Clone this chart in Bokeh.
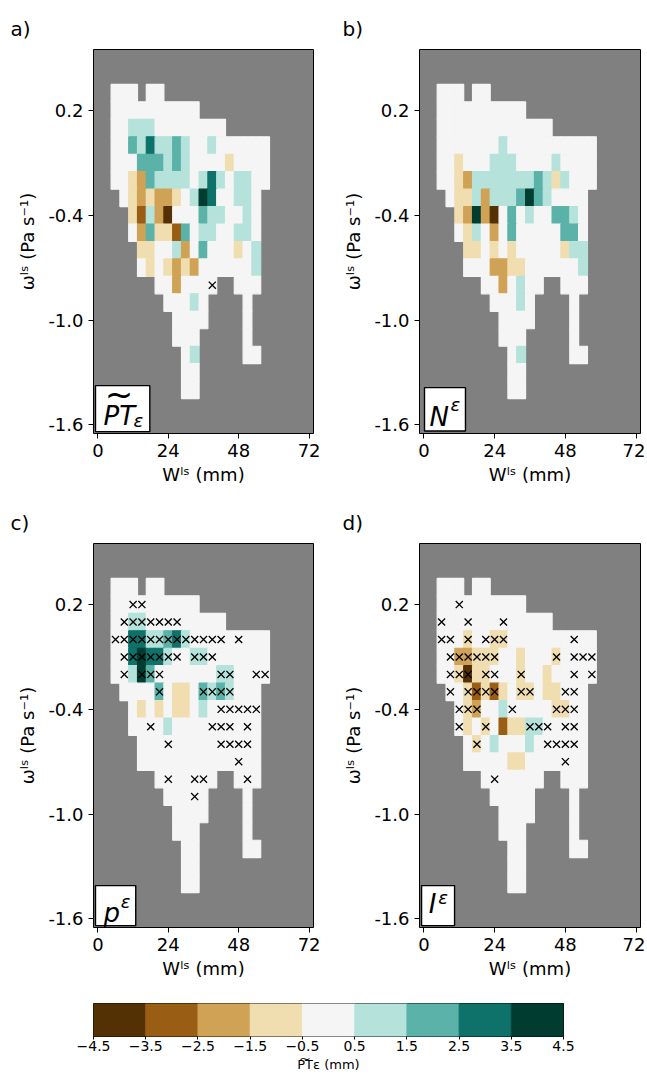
from bokeh.plotting import figure
from bokeh.models import ColumnDataSource, LinearColorMapper, FixedTicker, Range1d
from bokeh.layouts import column, row
from bokeh.embed import file_html
from bokeh.resources import INLINE
from bokeh.core.properties import value
from bokeh.transform import transform

# ---------------- data ----------------
W_BINS = [0, 3, 6, 9, 12, 15, 18, 21, 24, 27, 30, 33, 36, 39, 42, 45, 48,
          51, 54, 57, 60, 63, 66, 69, 72]
OMEGA_ROWS = [0.3, 0.2, 0.1, 0.0, -0.1, -0.2, -0.3, -0.4, -0.5, -0.6, -0.7,
              -0.8, -0.9, -1.0, -1.1, -1.2, -1.3, -1.4]
# '.' = no data ; a..d = -1..-4 ; 0..4 = 0..4 (mm)
LEVELS = {"d": -4, "c": -3, "b": -2, "a": -1,
          "0": 0, "1": 1, "2": 2, "3": 3, "4": 4}

PT_EPS = [
    "..000.00.................",
    "..0000000000.............",
    "..0011100000000..........",
    "..002131121001000000.....",
    "..0002221210000a0000.....",
    "..00ab21111013101100.....",
    "...0ababba014300110......",
    "....ac1bd0002110010......",
    "....0b2aac201100110......",
    ".....aa001b02000a01......",
    ".....0a0abab0000001......",
    ".......00b0000..000......",
    "........00010....0.......",
    ".........0000....0.......",
    ".........000.....0.......",
    "..........01.....00......",
    "..........00.............",
    "..........00.............",
]
N_EPS = [
    "..000.00.................",
    "..0000000000.............",
    "..0000000000000..........",
    "..000000010000000000.....",
    "..00a000111000010000.....",
    "..00ab111111121a1000.....",
    "...0aa1b11124210000......",
    "....ab4bd0201002210......",
    "....0a10b0200000220......",
    ".....aa0a0a00000a11......",
    ".....000bbaa0000001......",
    ".......00b0100..000......",
    "........00010....0.......",
    ".........0000....0.......",
    ".........000.....0.......",
    "..........01.....00......",
    "..........00.............",
    "..........00.............",
]
P_EPS = [
    "..000.00.................",
    "..0000000000.............",
    "..0011000000000..........",
    "..003311231000000000.....",
    "..003433100110000000.....",
    "..001420000000110000.....",
    "...000020aa02121000......",
    "....0a0a0aa01000000......",
    "....000010000000000......",
    ".....00000000000000......",
    ".....00000000000000......",
    ".......0000000..000......",
    "........00000....0.......",
    ".........0000....0.......",
    ".........000.....0.......",
    "..........00.....00......",
    "..........00.............",
    "..........00.............",
]
I_EPS = [
    "..000.00.................",
    "..0000000000.............",
    "..0000000000000..........",
    "..000a00aa0000000000.....",
    "..00bbaaa00a000a0000.....",
    "..00adaa000a00a00000.....",
    "...00acaca0aa0aa000......",
    "....0ab00100000aa00......",
    "....0a0a0caa1100000......",
    ".....0a010001000000......",
    ".....00000aa0000000......",
    ".......0000000..000......",
    "........00000....0.......",
    ".........0000....0.......",
    ".........000.....0.......",
    "..........00.....00......",
    "..........00.............",
    "..........00.............",
]

# cells marked with a cross: (omega, [W values])
CROSS_A = [(-0.8, [39])]
CROSS_B = []
CROSS_C = [
    (0.2, [12, 15]),
    (0.1, [9, 12, 15, 18, 21, 24, 27]),
    (0.0, [6, 9, 12, 15, 18, 21, 24, 27, 30, 33, 36, 39, 42, 48]),
    (-0.1, [9, 12, 15, 18, 21, 24, 27, 33, 36, 39]),
    (-0.2, [9, 15, 18, 21, 42, 45, 54, 57]),
    (-0.3, [21, 36, 39, 42, 45]),
    (-0.4, [42, 45, 48, 51, 54]),
    (-0.5, [18, 39, 42, 45, 51]),
    (-0.6, [24, 42, 45, 48, 51]),
    (-0.7, [48]),
    (-0.8, [24, 33, 36, 51]),
    (-0.9, [33]),
]
CROSS_D = [
    (0.2, [12]),
    (0.1, [6, 15, 27]),
    (0.0, [6, 9, 15, 21, 24, 27, 51]),
    (-0.1, [9, 12, 15, 18, 21, 24, 45, 51, 54, 57]),
    (-0.2, [9, 12, 15, 21, 24, 33, 51, 57]),
    (-0.3, [9, 15, 18, 21, 24, 33, 36, 48, 51]),
    (-0.4, [12, 15, 18, 30, 45, 48, 51]),
    (-0.5, [12, 21, 36, 39, 42, 48, 51]),
    (-0.6, [18, 42, 45, 48, 51]),
    (-0.7, [48]),
    (-0.8, [24]),
]

X_TICKS = [0, 24, 48, 72]
Y_TICKS = [0.2, -0.4, -1.0, -1.6]
Y_TICK_LABELS = ["0.2", "-0.4", "-1.0", "-1.6"]

CB_BOUNDS = [-4.5, -3.5, -2.5, -1.5, -0.5, 0.5, 1.5, 2.5, 3.5, 4.5]
CB_LABELS = ["\u22124.5", "\u22123.5", "\u22122.5", "\u22121.5", "\u22120.5",
             "0.5", "1.5", "2.5", "3.5", "4.5"]
PALETTE = ["#543005", "#995d13", "#cfa255", "#f0deb1", "#f5f5f5",
           "#b5e3dc", "#5bb2a8", "#0e726a", "#003c30"]

FONT = "DejaVu Sans"
mapper = LinearColorMapper(palette=PALETTE, low=-4.5, high=4.5)


def grid_source(grid):
    xs, ys, vs = [], [], []
    for om, line in zip(OMEGA_ROWS, grid):
        assert len(line) == len(W_BINS), line
        for w, ch in zip(W_BINS, line):
            if ch != ".":
                xs.append(w)
                ys.append(om)
                vs.append(LEVELS[ch])
    return ColumnDataSource(dict(x=xs, y=ys, v=vs))


def style_axis(ax, tick_fs, label_fs):
    ax.axis_line_color = None
    ax.major_tick_in = 0
    ax.minor_tick_out = 0
    ax.minor_tick_in = 0
    ax.major_tick_line_color = "black"
    ax.major_label_text_color = "black"
    ax.major_label_text_font = FONT
    ax.major_label_text_font_size = tick_fs
    ax.axis_label_text_color = "black"
    ax.axis_label_text_font = FONT
    ax.axis_label_text_font_size = label_fs
    ax.axis_label_text_font_style = "normal"


def make_panel(grid, crosses, tag, tag_offset, width, left, right,
               height, top, bottom, box, texts):
    p = figure(width=width, height=height,
               x_range=Range1d(-1.5, 73.5), y_range=Range1d(-1.65, 0.55),
               output_backend="svg", toolbar_location=None,
               min_border_left=left, min_border_right=right,
               min_border_top=top, min_border_bottom=bottom,
               title=tag)
    p.background_fill_color = "#808080"
    p.border_fill_color = "white"
    p.outline_line_color = "black"
    p.outline_line_width = 1
    p.grid.visible = False

    p.rect(x="x", y="y", width=3, height=0.1, source=grid_source(grid),
           fill_color=transform("v", mapper),
           line_color=transform("v", mapper), line_width=1.2)

    cx, cy = [], []
    for om, ws in crosses:
        for w in ws:
            cx.append(w)
            cy.append(om)
    if cx:
        p.scatter(cx, cy, marker="x", size=10, line_color="black",
                  line_width=1.3)

    bl, br, bb, bt = box
    p.quad(left=[bl], right=[br], bottom=[bb], top=[bt],
           fill_color="white", line_color="black", line_width=1.4)
    for (tx, ty, txt, fs, style, align) in texts:
        p.text(x=[tx], y=[ty], text=[txt], text_font=value(FONT),
               text_font_style=style, text_font_size=fs,
               text_baseline="middle", text_align=align,
               text_color="black")

    p.title.align = "left"
    p.title.offset = tag_offset
    p.title.text_font = FONT
    p.title.text_font_size = "20px"
    p.title.text_font_style = "normal"
    p.title.text_color = "black"
    p.title.standoff = 18

    p.xaxis.ticker = FixedTicker(ticks=X_TICKS)
    p.yaxis.ticker = FixedTicker(ticks=Y_TICKS)
    p.yaxis.major_label_overrides = dict(zip(Y_TICKS, Y_TICK_LABELS))
    p.xaxis.axis_label = "W\u02e1\u02e2 (mm)"
    p.yaxis.axis_label = "\u03c9\u02e1\u02e2 (Pa s\u207b\u00b9)"
    for ax in (p.xaxis, p.yaxis):
        style_axis(ax, "18px", "18px")
        ax.major_tick_out = 5
        ax.major_label_standoff = 5
    p.xaxis.axis_label_standoff = 4
    p.yaxis.axis_label_standoff = 7
    return p


pa = make_panel(PT_EPS, CROSS_A, "a)", -83, 338, 93, 25, 492, 49, 59,
                (-0.82, 17.7, -1.639, -1.376),
                [(1.9, -1.547, "PT", "26px", "italic", "left"),
                 (7.2, -1.425, "~", "34px", "normal", "center"),
                 (12.1, -1.578, "\u03b5", "18px", "italic", "left")])
pb = make_panel(N_EPS, CROSS_B, "b)", -77, 307, 81, 5, 492, 49, 59,
                (0.2, 14.1, -1.636, -1.387),
                [(1.9, -1.553, "N", "26px", "italic", "left"),
                 (9.0, -1.485, "\u03b5", "18px", "italic", "left")])
pc = make_panel(P_EPS, CROSS_C, "c)", -83, 338, 93, 25, 496, 51, 61,
                (-0.82, 12.9, -1.639, -1.410),
                [(1.9, -1.568, "p", "26px", "italic", "left"),
                 (7.8, -1.500, "\u03b5", "18px", "italic", "left")])
pd_ = make_panel(I_EPS, CROSS_D, "d)", -77, 307, 81, 5, 496, 51, 61,
                 (-0.8, 10.4, -1.639, -1.410),
                 [(1.6, -1.516, "I", "26px", "italic", "left"),
                  (4.9, -1.480, "\u03b5", "18px", "italic", "left")])

# ---------------- colour bar ----------------
cb = figure(width=645, height=88, x_range=Range1d(-4.5, 4.5),
            y_range=Range1d(0, 1), output_backend="svg",
            toolbar_location=None, min_border_left=93, min_border_right=82,
            min_border_top=15, min_border_bottom=40)
cb.quad(left=CB_BOUNDS[:-1], right=CB_BOUNDS[1:], bottom=0, top=1,
        fill_color=PALETTE, line_color=PALETTE, line_width=0.8)
cb.outline_line_color = "black"
cb.grid.visible = False
cb.yaxis.visible = False
cb.xaxis.ticker = FixedTicker(ticks=CB_BOUNDS)
cb.xaxis.major_label_overrides = dict(zip(CB_BOUNDS, CB_LABELS))
style_axis(cb.xaxis, "14px", "13px")
cb.xaxis.major_tick_out = 3
cb.xaxis.major_label_standoff = 1
cb.xaxis.axis_label = "P\u0360T\u03b5 (mm)"
cb.xaxis.axis_label_standoff = 3

layout = column(row(pa, pb), row(pc, pd_), cb)
open("out.html", "w").write(file_html(layout, INLINE))
